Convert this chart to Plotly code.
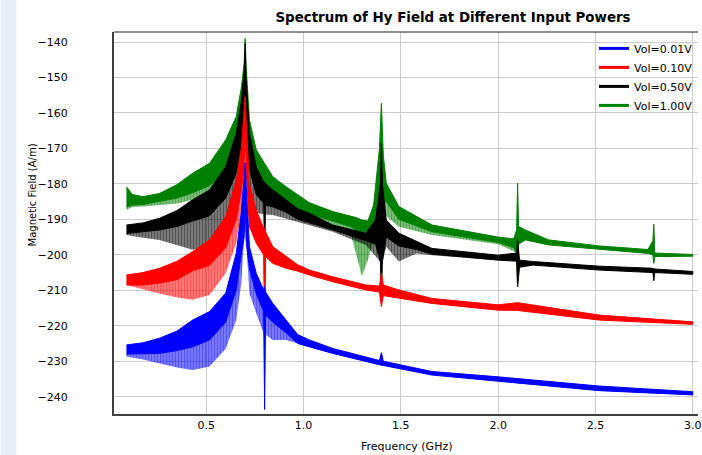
import plotly.graph_objects as go

# Hy spectrum. For every input level the dense ripple is
# kept as edges of its band at a set of frequencies (GHz): top, bottom of the
# solid part (mid) and the lowest tips of the comb under it (bot)
freq_001 = [0.09, 0.175, 0.26, 0.35, 0.43, 0.517, 0.60, 0.654, 0.68, 0.695, 0.70, 0.705, 0.722, 0.757,
            0.795, 0.80, 0.805, 0.842, 0.91, 0.97, 1.03, 1.15, 1.39, 1.40, 1.41, 1.66, 2.0, 2.52, 3.0]
top_001 = [-225.4, -224.8, -223.5, -221.5, -218.4, -216.0, -210.8, -199.6, -188.0, -177.0, -174.0, -180.0,
           -197.7, -205.2, -209.9, -209.0, -210.5, -213.7, -218.4, -222.5, -224.0, -226.4, -229.8, -227.6,
           -230.0, -232.9, -234.4, -237.0, -238.6]
mid_001 = [-228.0, -228.0, -227.8, -227.0, -226.0, -224.0, -219.0, -210.0, -200.0, -195.0, -185.0, -196.0,
           -204.0, -211.0, -216.0, -243.6, -217.0, -219.0, -222.0, -225.0, -226.0, -227.8, -231.0, -231.1,
           -231.2, -233.9, -235.6, -238.3, -239.5]
bot_001 = [-228.7, -229.5, -230.6, -231.8, -232.5, -231.5, -226.5, -218.4, -208.0, -195.0, -185.0, -196.0,
           -210.9, -216.5, -222.1, -243.6, -222.5, -224.0, -224.0, -225.0, -226.0, -227.8, -231.0, -231.1,
           -231.2, -233.9, -235.6, -238.3, -239.5]

freq_010 = [0.09, 0.175, 0.26, 0.35, 0.43, 0.517, 0.60, 0.654, 0.68, 0.695, 0.70, 0.705, 0.722, 0.757,
            0.795, 0.80, 0.805, 0.842, 0.91, 0.97, 1.03, 1.15, 1.32, 1.39, 1.40, 1.41, 1.49, 1.66, 2.0,
            2.10, 2.52, 3.0]
top_010 = [-205.7, -205.0, -203.8, -201.8, -199.1, -195.8, -189.2, -179.0, -170.0, -160.0, -155.4, -162.0,
           -180.0, -187.4, -192.5, -192.5, -193.5, -197.7, -200.5, -202.8, -204.3, -206.2, -208.5, -208.8,
           -205.2, -208.5, -209.9, -212.3, -214.1, -213.5, -217.0, -218.9]
mid_010 = [-208.5, -208.5, -208.0, -207.0, -204.5, -203.0, -198.0, -190.0, -182.0, -175.0, -165.0, -176.0,
           -192.0, -196.7, -200.0, -222.6, -200.5, -202.4, -203.8, -204.6, -205.7, -207.6, -209.9, -210.5,
           -214.6, -211.5, -212.3, -213.7, -215.6, -215.7, -218.4, -219.6]
bot_010 = [-208.5, -209.8, -210.9, -212.0, -212.7, -211.3, -205.2, -196.7, -188.0, -175.0, -165.0, -176.0,
           -192.0, -196.7, -200.0, -222.6, -200.5, -202.4, -203.8, -204.6, -205.7, -207.6, -209.9, -210.5,
           -214.6, -211.5, -212.3, -213.7, -215.6, -215.7, -218.4, -219.6]

freq_050 = [0.09, 0.175, 0.26, 0.35, 0.43, 0.517, 0.60, 0.654, 0.68, 0.695, 0.70, 0.705, 0.722, 0.757,
            0.795, 0.80, 0.805, 0.842, 0.91, 0.97, 1.03, 1.15, 1.32, 1.37, 1.395, 1.40, 1.405, 1.425, 1.49,
            1.58, 1.66, 2.0, 2.095, 2.10, 2.11, 2.18, 2.52, 2.795, 2.80, 2.805, 3.0]
top_050 = [-191.6, -191.0, -189.7, -187.5, -184.5, -181.7, -175.2, -165.7, -157.0, -148.0, -140.4, -150.0,
           -165.7, -175.2, -179.5, -179.5, -180.0, -181.7, -184.5, -187.0, -188.3, -191.6, -193.9, -190.2,
           -180.0, -168.6, -180.0, -190.2, -193.9, -196.3, -198.2, -200.1, -199.5, -195.8, -201.5, -201.9,
           -203.2, -203.8, -203.8, -204.0, -204.7]
mid_050 = [-194.0, -193.5, -193.0, -192.0, -190.5, -189.0, -184.0, -177.0, -170.0, -165.0, -158.0, -166.0,
           -176.0, -183.0, -185.5, -198.6, -186.0, -186.5, -188.0, -190.0, -191.0, -193.0, -196.0, -197.0,
           -202.0, -213.4, -202.0, -195.0, -197.5, -198.5, -199.8, -201.5, -201.8, -209.0, -203.5, -202.9,
           -204.3, -205.0, -207.3, -205.0, -205.5]
bot_050 = [-194.4, -195.2, -195.8, -197.3, -198.6, -197.7, -192.1, -184.5, -176.0, -165.0, -158.0, -166.0,
           -180.0, -188.3, -188.5, -198.6, -188.6, -188.8, -189.7, -190.8, -191.6, -193.5, -197.2, -200.5,
           -202.0, -213.4, -202.0, -197.7, -201.9, -199.6, -200.1, -201.5, -201.8, -209.0, -203.5, -202.9,
           -204.3, -205.0, -207.3, -205.0, -205.5]

freq_100 = [0.09, 0.12, 0.175, 0.26, 0.35, 0.43, 0.517, 0.60, 0.654, 0.68, 0.695, 0.70, 0.705, 0.722,
            0.757, 0.842, 0.91, 1.03, 1.15, 1.24, 1.27, 1.30, 1.33, 1.36, 1.39, 1.40, 1.41, 1.425, 1.49,
            1.66, 2.0, 2.08, 2.095, 2.10, 2.105, 2.14, 2.26, 2.52, 2.77, 2.795, 2.80, 2.805, 3.0]
top_100 = [-180.8, -183.0, -183.6, -182.7, -180.2, -177.0, -174.2, -167.6, -161.0, -153.0, -146.0, -139.0,
           -147.0, -162.0, -170.4, -178.0, -180.8, -185.3, -187.8, -189.0, -189.5, -190.2, -190.5, -186.0,
           -170.0, -157.3, -172.0, -179.8, -186.4, -191.6, -195.0, -195.5, -193.0, -179.8, -192.0, -193.0,
           -195.8, -197.5, -198.5, -196.0, -191.4, -199.5, -199.9]
mid_100 = [-186.5, -186.0, -185.8, -185.0, -184.0, -182.5, -180.5, -176.5, -171.0, -165.0, -160.0, -152.0,
           -161.0, -170.0, -178.0, -182.5, -185.0, -188.5, -190.5, -192.0, -193.0, -193.5, -193.5, -191.0,
           -186.0, -195.0, -185.0, -185.0, -190.0, -193.5, -196.5, -198.0, -199.5, -209.0, -197.0, -195.8,
           -197.2, -198.5, -199.6, -200.0, -202.4, -200.5, -200.4]
bot_100 = [-187.4, -186.5, -186.4, -186.0, -185.5, -184.5, -182.7, -178.9, -173.3, -167.0, -160.0, -152.0,
           -161.0, -172.0, -180.8, -184.5, -186.4, -190.0, -191.6, -193.5, -200.0, -206.0, -201.5, -196.0,
           -193.0, -195.0, -192.0, -189.0, -192.1, -194.4, -197.0, -199.0, -199.5, -209.0, -197.0, -195.8,
           -197.2, -198.5, -199.6, -200.0, -202.4, -200.5, -200.4]

labels = ["Vol=0.01V", "Vol=0.10V", "Vol=0.50V", "Vol=1.00V"]
colors = ["#0000ff", "#ff0000", "#000000", "#008000"]
# same colours, see-through, behind the comb strokes
tints = ["rgba(0,0,255,0.35)", "rgba(255,0,0,0.35)", "rgba(0,0,0,0.35)", "rgba(0,128,0,0.35)"]

FONT = "DejaVu Sans"

series = [
    (freq_001, top_001, mid_001, bot_001),
    (freq_010, top_010, mid_010, bot_010),
    (freq_050, top_050, mid_050, bot_050),
    (freq_100, top_100, mid_100, bot_100),
]

fig = go.Figure()

# bands drawn from the loudest up, so the blue one ends on top
for i in [3, 2, 1, 0]:
    f, top, mid, bot = series[i]
    # comb of ripple tips below the solid band
    fig.add_trace(go.Scatter(
        x=f + f[::-1], y=mid + bot[::-1],
        mode="lines", fill="toself", fillcolor=tints[i],
        fillpattern=dict(shape="|", fgcolor=colors[i], bgcolor=tints[i],
                         size=3, solidity=0.7),
        line=dict(width=0), showlegend=False, hoverinfo="skip"))
    fig.add_trace(go.Scatter(
        x=f + f[::-1], y=top + mid[::-1],
        mode="lines", fill="toself", fillcolor=colors[i],
        line=dict(color=colors[i], width=1),
        showlegend=False, hoverinfo="skip"))

# legend entries only
for i in range(4):
    fig.add_trace(go.Scatter(x=[None], y=[None], mode="lines", name=labels[i],
                             line=dict(color=colors[i], width=3)))

W, H = 702, 455
L, R, T, B = 114, 1, 32, 41
pw, ph = W - L - R, H - T - B

fig.update_layout(
    width=W, height=H,
    margin=dict(l=L, r=R, t=T, b=B),
    paper_bgcolor="white", plot_bgcolor="white",
    font=dict(family=FONT, size=11, color="black"),
    title=dict(text="<b>Spectrum of Hy Field at Different Input Powers</b>",
               font=dict(family=FONT, size=13.4, color="black"),
               xref="container", x=453 / W, xanchor="center",
               yref="container", y=1 - 17 / H, yanchor="middle"),
    showlegend=True,
    legend=dict(x=1, xanchor="right", y=0.995, yanchor="top",
                bgcolor="rgba(0,0,0,0)", font=dict(family=FONT, size=11),
                itemwidth=30, tracegroupgap=0),
    xaxis=dict(range=[0.026, 3.027], tickvals=[0.5, 1.0, 1.5, 2.0, 2.5, 3.0],
               ticktext=["0.5", "1.0", "1.5", "2.0", "2.5", "3.0"],
               ticklabeloverflow="allow",
               showgrid=True, gridcolor="#cccccc", gridwidth=1, zeroline=False,
               showline=True, linecolor="#404040", linewidth=2, ticks=""),
    yaxis=dict(range=[-244.88, -137.18], tickvals=list(range(-240, -139, 10)),
               showgrid=True, gridcolor="#cccccc", gridwidth=1, zeroline=False,
               showline=True, linecolor="#404040", linewidth=2, ticks="",
               ticklabelstandoff=42),
    annotations=[
        dict(text="Frequency (GHz)", xref="paper", yref="paper",
             x=0.5, y=-(446 - (T + ph)) / ph, xanchor="center", yanchor="middle",
             showarrow=False, font=dict(family=FONT, size=11)),
        dict(text="Magnetic Field (A/m)", xref="paper", yref="paper", textangle=-90,
             x=-(L - 32) / pw, y=1 - (195 - T) / ph, xanchor="center", yanchor="middle",
             showarrow=False, font=dict(family=FONT, size=10)),
    ],
    shapes=[
        # light strip of the window behind, at the far left
        dict(type="rect", xref="paper", yref="paper", x0=-L / pw, x1=(16 - L) / pw,
             y0=-B / ph - 0.01, y1=1 + T / ph + 0.01, fillcolor="#e6edf7",
             line=dict(width=0), layer="below"),
        # top border of the plot box
        dict(type="line", xref="paper", yref="paper", x0=0, x1=1, y0=1, y1=1,
             line=dict(color="#202020", width=1)),
    ],
)

# the page's default 8px body margin would push the figure off its corner
fig.write_html("out.html", config={"displayModeBar": False},
               post_script="document.body.style.margin='0';")
